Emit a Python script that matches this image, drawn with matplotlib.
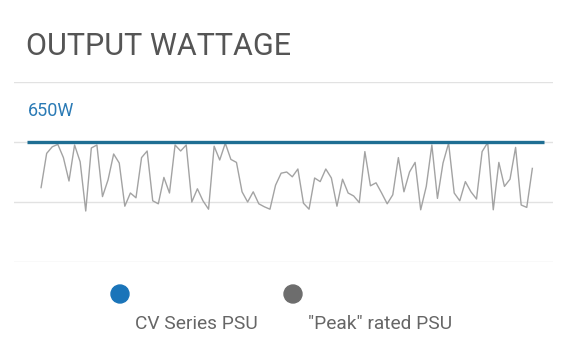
import matplotlib
matplotlib.use("Agg")
import matplotlib.pyplot as plt
from matplotlib.patches import Circle
import numpy as np

title = "OUTPUT WATTAGE"
cv_label = "CV Series PSU"
peak_label = "\"Peak\" rated PSU"
cv_watts = 650
y_ticks = [450, 550, 650, 750]
peak_watts = [574, 631, 642, 646, 624, 585, 645, 617, 535, 640,
              645, 559, 587, 630, 615, 543, 565, 557, 624, 635,
              552, 547, 591, 565, 645, 635, 645, 550, 572, 552,
              538, 643, 620, 648, 621, 616, 567, 550, 567, 547,
              542, 538, 578, 598, 600, 592, 605, 548, 538, 590,
              584, 605, 590, 543, 588, 565, 560, 549, 634, 577,
              582, 565, 547, 562, 624, 567, 600, 616, 537, 576,
              645, 556, 615, 648, 565, 552, 584, 567, 555, 634,
              649, 537, 616, 576, 588, 641, 545, 541, 606]

fig = plt.figure(figsize=(5.72, 3.52), dpi=100)
ax = fig.add_axes([14/572, 1-262/352, (553-14)/572, 180/352])
ax.set_ylim(450, 750)
ax.set_xlim(-4.85, 91.7)
ax.set_yticks(y_ticks)
ax.yaxis.grid(True, color="#e2e2e2", linewidth=1)
ax.tick_params(left=False, bottom=False, labelleft=False, labelbottom=False)
for s in ax.spines.values():
    s.set_visible(False)
ax.set_axisbelow(True)

x = np.arange(len(peak_watts))
ax.plot(x, peak_watts, color="#a3a3a3", linewidth=1.0, zorder=2)
ax.axhline(cv_watts, xmin=(27-14)/539, xmax=(544-14)/539, color="#1f6e93",
           linewidth=2.4, zorder=3, solid_capstyle="butt")

fam = ["Roboto", "DejaVu Sans"]
fig.text(26/572, 1-55/352, title, fontsize=22, color="#555555",
         family=fam, fontweight="normal", va="baseline")
fig.text(28/572, 1-116/352, f"{cv_watts}W", fontsize=13, color="#2a7ab5",
         family=fam, va="baseline")

# legend markers
fig.patches.append(Circle((1.20, (352-294)/100), 0.09,
                          transform=fig.dpi_scale_trans, color="#1a74b9"))
fig.patches.append(Circle((2.93, (352-294)/100), 0.09,
                          transform=fig.dpi_scale_trans, color="#6d6d6d"))
fig.text(135/572, 1-329/352, cv_label, fontsize=13.8, color="#666666",
         family=fam, va="baseline")
fig.text(308/572, 1-329/352, peak_label, fontsize=13.8, color="#666666",
         family=fam, va="baseline")

fig.savefig("out.png", dpi=100)
